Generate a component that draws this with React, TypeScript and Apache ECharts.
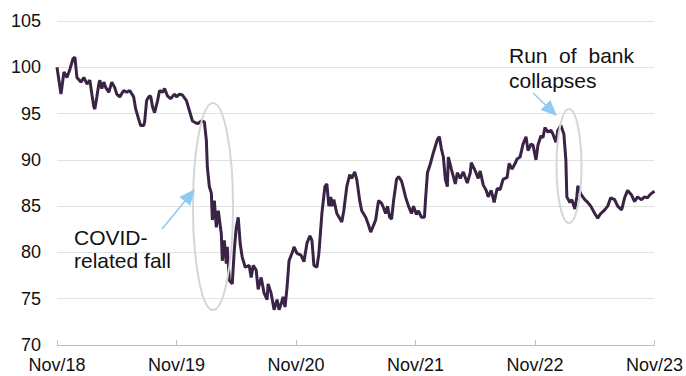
import React, { useEffect, useRef } from "react";
import * as echarts from "echarts";

// Months elapsed since Nov 2018
const monthOffsets: number[] = [
  0.0, 0.4, 0.7, 1.0, 1.3, 1.6, 1.8, 2.0, 2.4, 2.7, 3.0, 3.3, 3.5, 3.7, 3.8, 4.0, 4.2, 4.3, 4.5, 4.7,
  4.9, 5.2, 5.5, 5.8, 6.0, 6.3, 6.7, 7.0, 7.3, 7.7, 7.9, 8.2, 8.4, 8.7, 8.8, 9.0, 9.2, 9.4, 9.6, 9.8,
  10.1, 10.3, 10.6, 10.8, 11.1, 11.4, 11.8, 12.0, 12.3, 12.6, 13.0, 13.3, 13.6, 14.1, 14.5, 14.8, 15.0, 15.1, 15.3, 15.5,
  15.6, 15.8, 16.0, 16.2, 16.5, 16.6, 16.8, 17.0, 17.1, 17.3, 17.6, 17.8, 18.0, 18.2, 18.4, 18.6, 18.9, 19.3, 19.5, 19.7,
  20.0, 20.2, 20.5, 20.8, 21.1, 21.2, 21.5, 21.8, 22.1, 22.3, 22.5, 22.7, 22.9, 23.1, 23.3, 23.7, 23.8, 24.1, 24.5, 24.8,
  25.1, 25.4, 25.6, 25.8, 26.1, 26.3, 26.6, 26.9, 27.1, 27.3, 27.5, 27.6, 27.8, 28.1, 28.6, 28.8, 29.1, 29.4, 29.6, 29.9,
  30.1, 30.4, 30.6, 31.0, 31.3, 31.5, 31.7, 32.0, 32.2, 32.3, 32.6, 32.8, 33.0, 33.2, 33.4, 33.6, 33.8, 34.1, 34.3, 34.6,
  34.8, 35.0, 35.3, 35.6, 35.8, 36.1, 36.3, 36.6, 36.9, 37.0, 37.2, 37.5, 37.8, 38.2, 38.4, 38.6, 38.8, 39.0, 39.2, 39.3,
  39.6, 40.0, 40.2, 40.5, 40.8, 41.2, 41.5, 41.6, 42.0, 42.3, 42.5, 42.8, 43.1, 43.3, 43.6, 43.9, 44.2, 44.5, 44.8, 45.2,
  45.4, 45.7, 46.0, 46.2, 46.5, 46.8, 47.1, 47.3, 47.6, 47.8, 48.1, 48.3, 48.6, 48.8, 49.0, 49.3, 49.6, 49.8, 50.1, 50.3,
  50.6, 50.9, 51.1, 51.2, 51.5, 51.7, 52.0, 52.2, 52.3, 52.6, 53.0, 53.3, 53.6, 54.0, 54.3, 54.6, 55.0, 55.3, 55.6, 56.0,
  56.3, 56.7, 57.0, 57.3, 57.7, 58.0, 58.3, 58.7, 59.0, 59.3, 59.6, 60.0,
];

const indexValues: number[] = [
  100.0, 97.1, 99.5, 98.9, 99.8, 100.9, 101.1, 98.9, 98.4, 98.9, 98.2, 98.6, 97.1, 95.7, 95.5, 96.8, 98.2, 98.6, 97.7, 98.4,
  97.8, 97.3, 98.4, 97.8, 97.1, 96.8, 97.5, 97.3, 97.5, 96.8, 95.5, 94.4, 93.7, 93.7, 94.1, 96.4, 96.8, 96.9, 95.7, 95.1,
  96.4, 97.5, 97.3, 97.7, 96.9, 96.6, 97.1, 96.8, 97.1, 97.0, 96.4, 95.3, 94.2, 93.9, 94.2, 94.1, 92.1, 89.2, 87.1, 86.4,
  83.5, 85.6, 82.7, 84.5, 82.0, 79.1, 81.3, 78.8, 80.6, 77.0, 76.6, 80.2, 82.7, 83.8, 80.9, 79.5, 78.4, 78.6, 77.3, 78.6,
  78.1, 76.0, 77.3, 75.6, 74.9, 76.6, 75.6, 73.8, 74.9, 73.8, 74.4, 75.2, 74.1, 76.2, 79.1, 80.2, 80.6, 79.9, 79.7, 79.0,
  81.0, 81.8, 81.3, 78.6, 78.4, 79.9, 84.2, 87.1, 87.4, 85.0, 86.0, 85.0, 85.7, 84.2, 83.3, 84.5, 87.1, 88.4, 88.0, 88.7,
  87.9, 85.6, 84.5, 83.8, 82.9, 82.2, 82.7, 83.5, 85.0, 85.6, 85.3, 84.8, 84.2, 85.0, 83.8, 83.6, 85.6, 87.9, 88.2, 87.7,
  86.9, 86.0, 85.0, 84.2, 85.0, 84.1, 84.5, 83.8, 83.8, 85.6, 88.6, 89.6, 90.8, 92.2, 92.5, 91.2, 90.3, 87.9, 87.1, 90.3,
  89.0, 87.4, 88.6, 88.0, 88.7, 87.5, 88.6, 89.7, 88.8, 88.0, 88.8, 87.3, 86.7, 86.0, 86.7, 85.4, 86.9, 86.8, 87.9, 88.1,
  89.6, 89.0, 89.6, 90.1, 90.3, 91.7, 92.5, 91.0, 91.7, 91.6, 90.0, 91.6, 92.6, 92.4, 93.5, 93.0, 93.2, 92.8, 91.9, 93.2,
  93.7, 92.8, 90.0, 86.0, 85.4, 85.7, 84.7, 86.0, 87.2, 86.3, 85.7, 85.4, 85.0, 84.2, 83.7, 84.2, 84.6, 85.0, 85.9, 85.7,
  85.0, 84.6, 85.9, 86.7, 86.2, 85.5, 86.0, 85.7, 86.0, 85.9, 86.3, 86.6,
];

const tickLabels: string[] = ["Nov/18", "Nov/19", "Nov/20", "Nov/21", "Nov/22", "Nov/23"];

const FONT = "Liberation Sans, Arial, sans-serif";

function arrow(tail: [number, number], tip: [number, number], color: string) {
  const dx = tip[0] - tail[0];
  const dy = tip[1] - tail[1];
  const len = Math.sqrt(dx * dx + dy * dy);
  const ux = dx / len;
  const uy = dy / len;
  const hl = 16;
  const hw = 7;
  const bx = tip[0] - hl * ux;
  const by = tip[1] - hl * uy;
  const nx = -uy;
  const ny = ux;
  return [
    {
      type: "line",
      shape: { x1: tail[0], y1: tail[1], x2: bx + ux * 2, y2: by + uy * 2 },
      style: { stroke: color, lineWidth: 1.5 },
      z: 10,
    },
    {
      type: "polygon",
      shape: {
        points: [
          [tip[0], tip[1]],
          [bx + nx * hw, by + ny * hw],
          [bx - nx * hw, by - ny * hw],
        ],
      },
      style: { fill: color },
      z: 10,
    },
  ];
}

export default function App() {
  const ref = useRef<HTMLDivElement>(null);
  useEffect(() => {
    if (!ref.current) return;
    const chart = echarts.init(ref.current, undefined, { renderer: "svg" });
    const data = monthOffsets.map((m, i) => [m, indexValues[i]]);
    const blue = "#8ecbee";
    const ellipseStyle = { fill: "none", stroke: "#d6d6d6", lineWidth: 2 };
    chart.setOption({
      animation: false,
      grid: { left: 57, right: 29, top: 21, bottom: 31, containLabel: false },
      xAxis: {
        type: "value",
        min: 0,
        max: 60,
        interval: 12,
        axisLine: { show: true, lineStyle: { color: "#bfbfbf", width: 1 } },
        axisTick: { show: true, inside: true, length: 5, lineStyle: { color: "#bfbfbf" } },
        splitLine: { show: false },
        axisLabel: {
          fontSize: 18,
          fontFamily: FONT,
          color: "#111",
          margin: 11,
          formatter: (v: number) => tickLabels[Math.round(v / 12)] ?? "",
        },
      },
      yAxis: {
        type: "value",
        min: 70,
        max: 105,
        interval: 5,
        axisLine: { show: false },
        axisTick: { show: false },
        splitLine: { show: true, lineStyle: { color: "#e2e2e2", width: 1 } },
        axisLabel: { fontSize: 18, fontFamily: FONT, color: "#111", margin: 16 },
      },
      series: [
        {
          type: "line",
          data,
          showSymbol: false,
          symbol: "none",
          lineStyle: { color: "#3a2445", width: 3 },
          z: 3,
        },
      ],
      graphic: {
        elements: [
          { type: "ellipse", shape: { cx: 213, cy: 206.5, rx: 20, ry: 103.5 }, style: ellipseStyle, z: 5 },
          { type: "ellipse", shape: { cx: 569, cy: 166, rx: 12.5, ry: 57 }, style: ellipseStyle, z: 5 },
          ...arrow([162, 229], [195, 189], blue),
          ...arrow([533, 93], [557, 116], blue),
          {
            type: "text",
            x: 74,
            y: 237.5,
            style: { text: "COVID-", font: `21px ${FONT}`, fill: "#111", textVerticalAlign: "middle" },
            z: 10,
          },
          {
            type: "text",
            x: 74,
            y: 260,
            style: { text: "related fall", font: `21px ${FONT}`, fill: "#111", textVerticalAlign: "middle" },
            z: 10,
          },
          {
            type: "text",
            x: 509,
            y: 55,
            style: { text: "Run", font: `21px ${FONT}`, fill: "#111", textVerticalAlign: "middle" },
            z: 10,
          },
          {
            type: "text",
            x: 559,
            y: 55,
            style: { text: "of", font: `21px ${FONT}`, fill: "#111", textVerticalAlign: "middle" },
            z: 10,
          },
          {
            type: "text",
            x: 634,
            y: 55,
            style: { text: "bank", font: `21px ${FONT}`, fill: "#111", textAlign: "right", textVerticalAlign: "middle" },
            z: 10,
          },
          {
            type: "text",
            x: 509,
            y: 80,
            style: { text: "collapses", font: `21px ${FONT}`, fill: "#111", textVerticalAlign: "middle" },
            z: 10,
          },
        ],
      },
    });
    return () => chart.dispose();
  }, []);
  return (
    <div
      ref={ref}
      style={{ position: "fixed", left: 0, top: 0, width: 686, height: 376, background: "#fff" }}
    />
  );
}
